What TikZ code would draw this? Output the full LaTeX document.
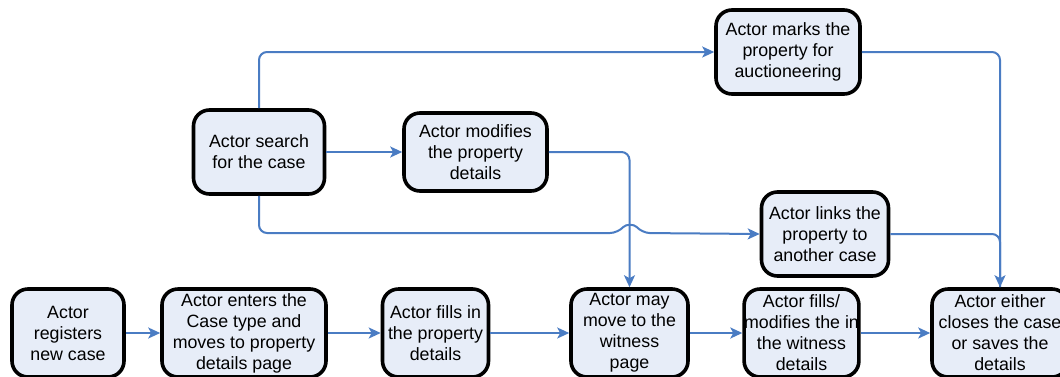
\documentclass[tikz,border=0pt]{standalone}
\usepackage{fontspec}
\setmainfont{Liberation Sans}
\usetikzlibrary{arrows.meta}
\definecolor{boxfill}{HTML}{E7EDF8}
\definecolor{linkblue}{HTML}{4A7CC3}
\tikzset{
  stepbox/.style={draw=black, line width=3.6pt, fill=boxfill, rounded corners=16pt,
    align=center, inner sep=0pt, font=\fontsize{17.8}{21}\selectfont, minimum height=84pt},
  flow/.style={draw=linkblue, line width=2pt, rounded corners=8pt},
  arr/.style={flow, -{Stealth[length=12pt,width=11pt,inset=3pt]}}
}
\begin{document}
\begin{tikzpicture}[x=1pt,y=-1pt]
\useasboundingbox[fill=white] (0,0) rectangle (1060,376);
% top row
\node[stepbox, minimum width=144pt] (marks) at (788,52) {Actor marks the\\property for\\auctioneering};
\node[stepbox, minimum width=131pt] (search) at (259,152) {Actor search\\for the case};
\node[stepbox, minimum width=143pt, minimum height=78pt] (modif) at (475.5,152) {Actor modifies\\the property\\details};
\node[stepbox, minimum width=127pt] (links) at (825,234) {Actor links the\\property to\\another case};
% bottom row
\node[stepbox, minimum width=112pt, minimum height=88pt] (reg) at (68,333) {Actor\\registers\\new case};
\node[stepbox, minimum width=164pt, minimum height=88pt] (enters) at (244,333) {Actor enters the\\Case type and\\moves to property\\details page};
\node[stepbox, minimum width=106pt, minimum height=88pt] (fills) at (435.5,333) {Actor fills in\\the property\\details};
\node[stepbox, minimum width=117pt, minimum height=88pt] (may) at (629.5,333) {Actor may\\move to the\\witness\\page};
\node[stepbox, minimum width=114pt, minimum height=88pt] (fillsw) at (801.5,333) {Actor fills/\\modifies the in\\the witness\\details};
\node[stepbox, minimum width=136pt, minimum height=88pt] (closes) at (1000,333) {Actor either\\closes the case\\or saves the\\details};
% connectors
\draw[arr] (search.north) |- (marks.west);
\draw[arr] (search.east) -- (modif.west);
\draw[arr] (modif.east) -| (may.north);
\coordinate (hopL) at (618,233);
\coordinate (hopR) at (642,233);
\draw[arr] (search.south) |- (hopL) .. controls (626,224) and (634,224) .. (hopR) -- (links.west);
\draw[arr] (marks.east) -| (closes.north);
\draw[flow] (links.east) -| (closes.north);
\draw[arr] (reg.east) -- (enters.west);
\draw[arr] (enters.east) -- (fills.west);
\draw[arr] (fills.east) -- (may.west);
\draw[arr] (may.east) -- (fillsw.west);
\draw[arr] (fillsw.east) -- (closes.west);
\end{tikzpicture}
\end{document}
